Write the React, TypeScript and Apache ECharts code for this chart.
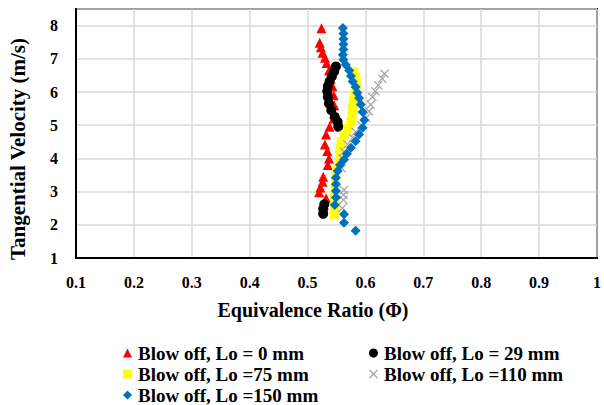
import React, { useEffect, useRef } from "react";
import * as echarts from "echarts";

// [equivalence ratio, tangential velocity]
const lo0: number[][] = [
  [0.524, 7.92], [0.521, 7.48], [0.523, 7.35], [0.526, 7.18], [0.530, 7.03], [0.533, 6.87],
  [0.537, 6.65], [0.540, 6.40], [0.543, 6.17], [0.545, 5.90], [0.546, 5.60], [0.546, 5.35],
  [0.545, 5.20], [0.538, 4.95], [0.532, 4.72], [0.530, 4.42], [0.534, 4.22], [0.537, 4.00],
  [0.535, 3.80], [0.527, 3.45], [0.526, 3.30], [0.522, 3.12], [0.520, 2.98], [0.532, 2.80],
  [0.528, 2.60], [0.527, 2.45],
];
const lo29: number[][] = [
  [0.549, 6.77], [0.546, 6.62], [0.542, 6.47], [0.538, 6.32], [0.535, 6.17], [0.534, 6.02],
  [0.535, 5.85], [0.537, 5.65], [0.541, 5.45], [0.547, 5.25], [0.552, 5.10], [0.553, 4.95],
  [0.529, 2.62], [0.527, 2.48], [0.527, 2.33],
];
const lo75: number[][] = [
  [0.580, 6.60], [0.582, 6.45], [0.584, 6.30], [0.584, 6.10], [0.581, 5.90], [0.579, 5.70],
  [0.578, 5.50], [0.577, 5.30], [0.575, 5.10], [0.570, 4.90], [0.563, 4.70], [0.558, 4.50],
  [0.556, 4.30], [0.556, 4.10], [0.556, 3.90], [0.551, 3.70], [0.549, 3.50], [0.548, 3.30],
  [0.548, 3.10], [0.547, 2.90], [0.547, 2.70], [0.547, 2.50], [0.546, 2.30],
];
const lo110: number[][] = [
  [0.633, 6.55], [0.629, 6.40], [0.622, 6.20], [0.617, 6.02], [0.612, 5.85], [0.609, 5.62],
  [0.606, 5.42], [0.601, 5.22], [0.593, 5.00], [0.583, 4.80], [0.578, 4.62], [0.569, 4.42],
  [0.563, 4.20], [0.560, 4.00], [0.559, 3.70], [0.563, 3.05], [0.562, 2.90], [0.562, 2.75],
  [0.560, 2.50],
];
const lo150: number[][] = [
  [0.561, 7.93], [0.562, 7.76], [0.562, 7.60], [0.562, 7.44], [0.562, 7.28], [0.561, 7.12],
  [0.562, 6.97], [0.566, 6.82], [0.572, 6.65], [0.575, 6.48], [0.578, 6.32], [0.583, 6.15],
  [0.586, 5.98], [0.589, 5.82], [0.592, 5.62], [0.595, 5.40], [0.598, 5.16], [0.595, 4.92],
  [0.589, 4.72], [0.583, 4.52], [0.575, 4.32], [0.568, 4.14], [0.563, 3.96], [0.556, 3.80],
  [0.552, 3.62], [0.549, 3.42], [0.549, 3.22], [0.549, 3.02], [0.549, 2.82], [0.547, 2.60],
  [0.563, 2.32], [0.563, 2.06], [0.583, 1.82],
];

const seriesNames = [
  "Blow off, Lo = 0 mm",
  "Blow off, Lo = 29 mm",
  "Blow off, Lo =75 mm",
  "Blow off, Lo =110 mm",
  "Blow off, Lo =150 mm",
];
const seriesData = [lo0, lo29, lo75, lo110, lo150];
const seriesColors = ["#ff0000", "#000000", "#ffff00", "#a6a6a6", "#0070c0"];
const crossPath =
  "path://M1,0 L5,4 L9,0 L10,1 L6,5 L10,9 L9,10 L5,6 L1,10 L0,9 L4,5 L0,1 Z";
const seriesSymbols = ["triangle", "circle", "rect", crossPath, "diamond"];
const seriesSizes = [10, 10, 9, 9, 10];
const xTitle = "Equivalence Ratio (Φ)";
const yTitle = "Tangential Velocity (m/s)";

const FONT = "'Liberation Serif', 'Times New Roman', serif";

export default function App() {
  const ref = useRef<HTMLDivElement>(null);
  useEffect(() => {
    if (!ref.current) return;
    const chart = echarts.init(ref.current, undefined, { renderer: "svg" });
    const legendPos = [
      { left: 123, top: 343 },
      { left: 369, top: 343 },
      { left: 123, top: 364 },
      { left: 369, top: 364 },
      { left: 123, top: 385 },
    ];
    chart.setOption({
      animation: false,
      backgroundColor: "#ffffff",
      textStyle: { fontFamily: FONT },
      grid: {
        left: 76,
        top: 9,
        right: 2,
        bottom: 147,
        show: true,
        borderColor: "#000",
        borderWidth: 2,
        backgroundColor: "transparent",
      },
      graphic: [
        {
          type: "text",
          x: 313,
          y: 310,
          style: {
            text: xTitle,
            fontSize: 20,
            fontWeight: "bold",
            fontFamily: FONT,
            fill: "#000",
            align: "center",
            verticalAlign: "middle",
          },
        },
        {
          type: "text",
          x: 18,
          y: 149,
          rotation: Math.PI / 2,
          style: {
            text: yTitle,
            fontSize: 21,
            fontWeight: "bold",
            fontFamily: FONT,
            fill: "#000",
            align: "center",
            verticalAlign: "middle",
          },
        },
      ],
      xAxis: {
        type: "value",
        min: 0.1,
        max: 1,
        interval: 0.1,
        axisLine: { show: true, lineStyle: { color: "#000", width: 2 } },
        axisTick: { show: false },
        axisLabel: { fontSize: 16, fontWeight: "bold", color: "#000", margin: 16, fontFamily: FONT },
        splitLine: { show: true, lineStyle: { color: "#d9d9d9", width: 1.5 } },
      },
      yAxis: {
        type: "value",
        min: 1,
        max: 8.5,
        interval: 1,
        axisLine: { show: true, lineStyle: { color: "#000", width: 2 } },
        axisTick: { show: false },
        axisLabel: {
          fontSize: 16,
          fontWeight: "bold",
          color: "#000",
          margin: 18,
          showMaxLabel: false,
          fontFamily: FONT,
        },
        splitLine: { show: true, lineStyle: { color: "#d9d9d9", width: 1.5 } },
      },
      legend: seriesNames.map((name, i) => ({
        data: [name],
        left: legendPos[i].left,
        top: legendPos[i].top,
        padding: 0,
        itemWidth: 9,
        itemHeight: 9,
        itemGap: 0,
        textStyle: {
          fontSize: 19,
          fontWeight: "bold",
          color: "#000",
          fontFamily: FONT,
          lineHeight: 20,
          padding: [0, 0, 0, 1],
        },
      })),
      series: seriesNames.map((name, i) => ({
        name,
        type: "scatter",
        data: seriesData[i],
        symbol: seriesSymbols[i],
        symbolSize: seriesSizes[i],
        itemStyle: { color: seriesColors[i], opacity: 1 },
        z: 2 + i,
      })),
    });
    return () => chart.dispose();
  }, []);
  return (
    <div
      ref={ref}
      style={{ position: "fixed", left: 0, top: 0, width: 604, height: 405, background: "#fff" }}
    />
  );
}
